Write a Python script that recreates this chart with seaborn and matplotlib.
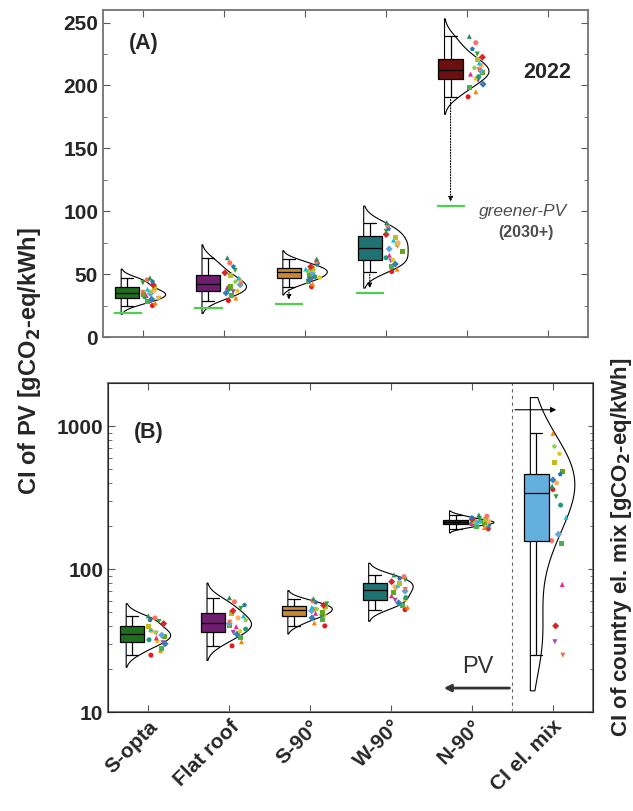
import numpy as np
import pandas as pd
import matplotlib

matplotlib.use("Agg")
import matplotlib.pyplot as plt
import seaborn as sns
from matplotlib.markers import MarkerStyle
from matplotlib.ticker import MultipleLocator, LogLocator, NullFormatter, FixedLocator, FixedFormatter

sns.set_style("ticks")
plt.rcParams["font.family"] = ["Liberation Sans", "DejaVu Sans"]
plt.rcParams["font.weight"] = "bold"
plt.rcParams["axes.labelweight"] = "bold"

# categories on the x axis
cats = ["S-opta", "Flat roof", "S-90°", "W-90°", "N-90°", "CI el. mix"]
box_colors = ["#127a12", "#7d0f7d", "#e08a1e", "#12807f", "#7a0000", "#4fb4f2"]

# countries (one point per country and orientation)
countries = ["PT", "ES", "IT", "GR", "CY", "MT", "HR", "SI", "FR", "BG",
             "RO", "HU", "AT", "SK", "CZ", "DE", "PL", "BE", "NL", "DK"]

# CI of PV [gCO2-eq/kWh], 2022, per country
s_opta = [25, 27, 28, 30, 30.5, 31.2, 32, 33, 34, 34.5,
          35.5, 36, 37, 38, 39.5, 41.5, 43, 44, 45.5, 47]
flat_roof = [29, 31, 33, 35, 36, 36.7, 38, 39.5, 40.5, 41.5,
             42.5, 44, 45.5, 47, 49, 51, 53, 56, 59, 63]
s_90 = [40, 42, 44, 45.5, 46.5, 47.2, 48, 49, 50, 51,
        52, 52.5, 53.5, 54, 54.8, 55.8, 57, 58.5, 60, 62]
w_90 = [52, 54, 56, 58, 60.5, 61.2, 63, 65, 68, 70,
        72, 73.5, 75, 77, 79.5, 81.5, 84, 86, 88.5, 91]
n_90 = [191, 195, 198, 201, 204, 205.5, 207, 209, 210.5, 211.5,
        212.5, 214, 216, 218, 220.5, 222.5, 225, 229, 234, 239]
# CI of country electricity mix [gCO2-eq/kWh]
el_mix = [360, 890, 150, 420, 31, 640, 280, 78, 480, 175,
          25, 720, 400, 230, 560, 40, 320, 460, 158, 380]

# greener PV (2030+) lower bound per orientation
greener = [19, 23, 26, 35, 104]

country_colors = ["#e41a1c", "#ff7f00", "#4daf4a", "#377eb8", "#984ea3",
                  "#e6c619", "#1b9e77", "#e7298a", "#66a61e", "#5fa8d8",
                  "#f46d43", "#8fd14f", "#fdae61", "#17becf", "#bcbd22",
                  "#d62728", "#2ca02c", "#1f77b4", "#ff6f61", "#2e8b57"]
markers = ["o", "^", "s", "D", "v", "p"]

rows = []
for ci, c in enumerate(countries):
    for cat, vals in zip(cats, [s_opta, flat_roof, s_90, w_90, n_90, el_mix]):
        rows.append((c, cat, vals[ci]))
df = pd.DataFrame(rows, columns=["country", "cat", "ci"])

np.random.seed(3)
TICK_FS = 15


def marker_path(m):
    ms = MarkerStyle(m)
    return ms.get_path().transformed(ms.get_transform())


point_paths = [marker_path(markers[i % len(markers)]) for i in range(len(countries))]


def draw(ax, d, log):
    ls = True if log else None
    for cat in cats:
        sub = d[d.cat == cat].assign(side="R")
        if sub.empty:
            continue
        sns.violinplot(data=sub, x="cat", y="ci", order=cats,
                       hue="side", hue_order=["L", "R"], split=True, dodge=False,
                       inner=None, fill=False, palette={"L": "k", "R": "k"},
                       linewidth=0.8, width=0.55, density_norm="width",
                       cut=1 if cat == "CI el. mix" else 2,
                       legend=False, log_scale=ls, ax=ax)
    # country points, jittered just right of each category
    n0 = len(ax.collections)
    sns.stripplot(data=d.assign(side="c"), x="cat", y="ci", order=cats,
                  hue="side", hue_order=["a", "b", "c", "d"], dodge=True,
                  jitter=0.45, palette={k: "k" for k in "abcd"}, size=3.6,
                  linewidth=0, legend=False, log_scale=ls, ax=ax, zorder=3)
    for coll in ax.collections[n0:]:
        n = len(coll.get_offsets())
        coll.set_facecolor(country_colors[:n])
        coll.set_paths(point_paths[:n])
    for cat, col in zip(cats, box_colors):
        sub = d[d.cat == cat].assign(side="L")
        if sub.empty:
            continue
        sns.boxplot(data=sub, x="cat", y="ci", order=cats, hue="side",
                    hue_order=["L", "R"], dodge=True, width=0.8, gap=0.25,
                    palette={"L": col, "R": col}, linecolor="k", linewidth=0.9,
                    whis=(0, 100), showfliers=False, legend=False,
                    log_scale=ls, ax=ax, zorder=4)
    ax.set(xlabel="", ylabel="")
    ax.set_xlim(-0.5, 5.5)
    ax.set_xticks(range(len(cats)))
    ax.tick_params(which="both", direction="in", top=True, right=True,
                   labelsize=TICK_FS, color="0.35")
    ax.tick_params(which="major", length=5)
    ax.tick_params(which="minor", length=3)
    for s in ax.spines.values():
        s.set_color("0.45")
        s.set_linewidth(1.3)


fig = plt.figure(figsize=(6.33, 8.11), dpi=100)
axA = fig.add_axes([103 / 633, 1 - 337 / 811, 485 / 633, 327 / 811])
axB = fig.add_axes([108 / 633, 1 - 712 / 811, 485 / 633, 329 / 811])

# panel A
dA = df[df.cat != "CI el. mix"]
draw(axA, dA, False)
axA.set_ylim(0, 260)
axA.yaxis.set_major_locator(MultipleLocator(50))
axA.yaxis.set_minor_locator(MultipleLocator(25))
axA.tick_params(labelbottom=False)

mins = dA.groupby("cat")["ci"].min().reindex(cats[:5]).values
pos = np.arange(len(greener))
axA.hlines(greener, pos - 0.37, pos - 0.02, color="#4cd14c", lw=1.6, zorder=5)
for p, lo, g in zip(pos, mins, greener):
    if lo - g > 8:
        axA.annotate("", xy=(p - 0.2, g + 1.5), xytext=(p - 0.2, lo),
                     arrowprops=dict(arrowstyle="-|>", linestyle=(0, (1, 1.5)),
                                     color="k", lw=0.8, mutation_scale=7),
                     zorder=5)
axA.text(0, 233, "(A)", ha="center", va="center", fontsize=15.5)
axA.text(4.7, 210, "2022", ha="left", va="center", fontsize=15.5)
axA.text(4.7, 100, "greener-PV", ha="center", va="center", fontsize=12.5,
         style="italic", weight="normal", color="0.3")
axA.text(4.73, 83, "(2030+)", ha="center", va="center", fontsize=11.5,
         color="0.3")

# panel B
draw(axB, df, True)
axB.set_ylim(10, 2000)
axB.yaxis.set_major_locator(FixedLocator([10, 100, 1000]))
axB.yaxis.set_major_formatter(FixedFormatter(["10", "100", "1000"]))
axB.yaxis.set_minor_locator(LogLocator(base=10, subs=np.arange(2, 10)))
axB.yaxis.set_minor_formatter(NullFormatter())
axB.set_xticks(range(len(cats)))
axB.set_xticklabels(cats, rotation=45, ha="right", rotation_mode="anchor",
                    fontsize=TICK_FS)
axB.axvline(4.5, ls=(0, (3, 3)), color="0.4", lw=0.8)
axB.annotate("", xy=(5.08, 1300), xytext=(4.5, 1300),
             arrowprops=dict(arrowstyle="-|>", color="k", lw=0.8,
                             mutation_scale=8))
axB.annotate("", xy=(3.62, 14.7), xytext=(4.5, 14.7),
             arrowprops=dict(arrowstyle="-|>", color="0.2", lw=2,
                             mutation_scale=10))
axB.text(4.08, 20.5, "PV", ha="center", va="center", fontsize=17,
         weight="normal", color="0.2")
axB.text(0, 908, "(B)", ha="center", va="center", fontsize=15.5)

axR = axB.twinx()
axR.set_yscale("log")
axR.set_ylim(10, 2000)
axR.yaxis.set_minor_locator(LogLocator(base=10, subs=np.arange(2, 10)))
axR.tick_params(which="both", direction="in", labelright=False, color="0.35")
axR.set_ylabel("CI of country el. mix [gCO$_2$-eq/kWh]", fontsize=16)
axR.yaxis.label.set_va("center")
axR.yaxis.set_label_coords(1.0 + 28 / 485, 0.5)

fig.text(30 / 633, 1 - 361 / 811, "CI of PV [gCO$_2$-eq/kWh]", rotation=90,
         ha="center", va="center", fontsize=17)

fig.savefig("out.png", dpi=100)
